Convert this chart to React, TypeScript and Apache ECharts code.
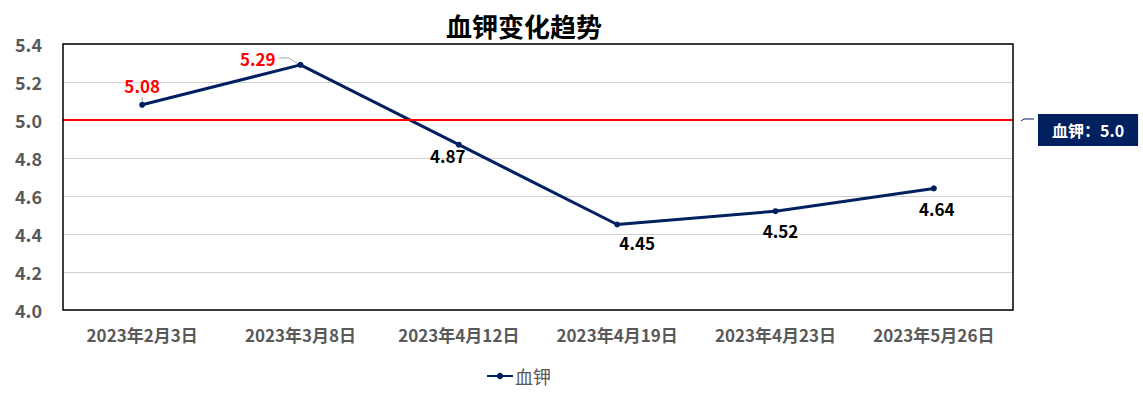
import React, { useEffect, useRef } from "react";
import * as echarts from "echarts";

const categories = ["2023年2月3日", "2023年3月8日", "2023年4月12日", "2023年4月19日", "2023年4月23日", "2023年5月26日"];
const potassium = [5.08, 5.29, 4.87, 4.45, 4.52, 4.64];
const labelOffsets: [string, number, number][] = [
  ["top", 0, -2],
  ["left", -16, -6],
  ["bottom", -11, -7],
  ["bottom", 20, 0],
  ["bottom", 5, 2],
  ["bottom", 3, 3],
];
const threshold = 5.0;
const yTicks = { min: 4.0, max: 5.4, interval: 0.2 };

export default function App() {
  const ref = useRef<HTMLDivElement>(null);
  useEffect(() => {
    const chart = echarts.init(ref.current!, null, { renderer: "svg" });
    const font = "'Noto Sans CJK SC', 'Open Sans', sans-serif";
    const grid = { left: 63, right: 130, top: 44, bottom: 84 };
    chart.setOption({
      animation: false,
      textStyle: { fontFamily: font },
      title: {
        text: "血钾变化趋势",
        left: 519,
        textAlign: "center",
        top: 7,
        textStyle: { fontSize: 26, fontWeight: "bold", color: "#000", fontFamily: font },
      },
      legend: {
        bottom: 4,
        left: 481,
        itemWidth: 26,
        itemHeight: 8,
        itemGap: 4,
        textStyle: { fontSize: 18, color: "#595959", fontFamily: font, padding: [0, 0, 0, -3] },
        data: ["血钾"],
      },
      grid: { ...grid, show: false },
      xAxis: {
        type: "category",
        data: categories,
        boundaryGap: true,
        axisLine: { show: false },
        axisTick: { show: false },
        axisLabel: { color: "#595959", fontWeight: "bold", fontSize: 17, margin: 16, fontFamily: font },
      },
      yAxis: {
        type: "value",
        min: yTicks.min,
        max: yTicks.max,
        interval: yTicks.interval,
        axisLine: { show: false },
        axisTick: { show: false },
        splitLine: { lineStyle: { color: "#d0d0d0", width: 1 } },
        axisLabel: {
          color: "#595959",
          fontWeight: "bold",
          fontSize: 18,
          margin: 21,
          fontFamily: font,
          formatter: (v: number) => v.toFixed(1),
        },
      },
      series: [
        {
          name: "血钾",
          type: "line",
          data: potassium.map((v, i) => ({
            value: v,
            label: {
              position: labelOffsets[i][0],
              offset: [labelOffsets[i][1], labelOffsets[i][2]],
              color: v > threshold ? "#ff0000" : "#000",
            },
          })),
          symbol: "circle",
          symbolSize: 6,
          itemStyle: { color: "#002060" },
          lineStyle: { color: "#002060", width: 3 },
          label: {
            show: true,
            fontSize: 17,
            fontWeight: "bold",
            distance: 6,
            fontFamily: font,
            formatter: (p: any) => p.value.toFixed(2),
          },
          markLine: {
            symbol: "none",
            silent: true,
            lineStyle: { color: "#ff0000", width: 2, type: "solid" },
            data: [{ yAxis: threshold }],
            label: {
              show: true,
              position: "end",
              distance: 25,
              offset: [0, 10],
              formatter: "血钾：" + threshold.toFixed(1),
              color: "#fff",
              backgroundColor: "#002060",
              fontWeight: "bold",
              fontSize: 16,
              padding: [8, 14, 8, 14],
              fontFamily: font,
            },
          },
        },
      ],
    });
    const p1 = chart.convertToPixel({ gridIndex: 0 }, [1, potassium[1]]) as number[];
    const p0 = chart.convertToPixel({ gridIndex: 0 }, [0, potassium[0]]) as number[];
    const pt = chart.convertToPixel({ gridIndex: 0 }, [categories.length - 1, threshold]) as number[];
    const w = 1143 - grid.left - grid.right;
    const h = 394 - grid.top - grid.bottom;
    chart.setOption({
      graphic: [
        {
          type: "rect",
          z: 100,
          shape: { x: grid.left, y: grid.top, width: w, height: h },
          style: { stroke: "#000", lineWidth: 1.5, fill: "none" },
        },
        {
          type: "polyline",
          shape: { points: [[p1[0] - 22, p1[1] - 7], [p1[0] - 12, p1[1] - 7], [p1[0] - 1, p1[1]]] },
          style: { stroke: "#a6a6a6", lineWidth: 1, fill: "none" },
        },
        {
          type: "line",
          shape: { x1: p0[0], y1: p0[1] - 3, x2: p0[0], y2: p0[1] - 8 },
          style: { stroke: "#a6a6a6", lineWidth: 1 },
        },
        {
          type: "polyline",
          shape: { points: [[grid.left + w + 8, pt[1] + 1], [grid.left + w + 11, pt[1] - 1], [grid.left + w + 21, pt[1] - 1]] },
          style: { stroke: "#002060", lineWidth: 1, fill: "none" },
        },
      ],
    });
    return () => chart.dispose();
  }, []);
  return <div ref={ref} style={{ position: "absolute", left: 0, top: 0, width: 1143, height: 394 }} />;
}
